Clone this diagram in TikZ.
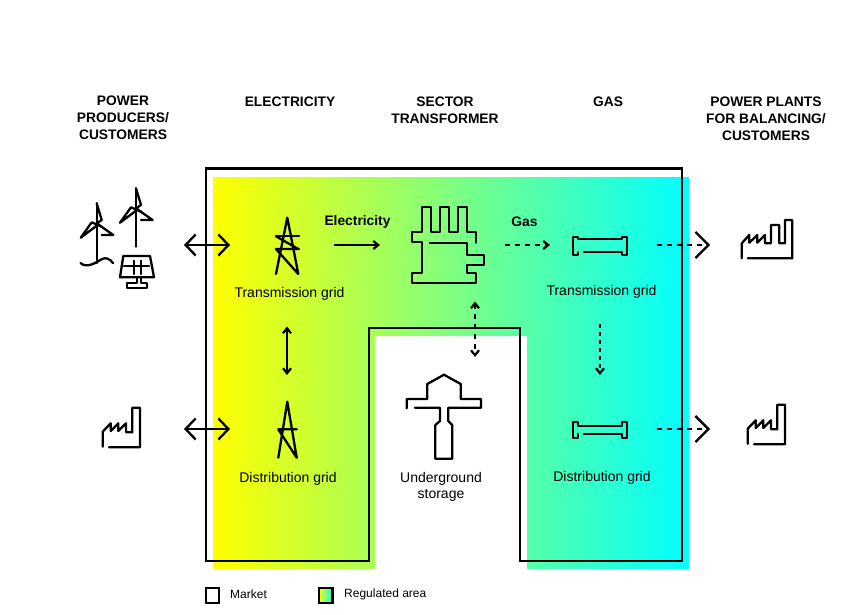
\documentclass[tikz,border=0pt]{standalone}
\usepackage{fontspec}
\setmainfont{Liberation Sans}
\usetikzlibrary{arrows.meta}

\definecolor{regyellow}{RGB}{255,255,0}
\definecolor{regcyan}{RGB}{0,255,255}

\tikzset{
  head/.style = {font = \fontsize{13.8}{17}\selectfont\bfseries, align = center},
  lbl/.style = {font = \fontsize{14}{16}\selectfont, align = center},
  legend/.style = {font = \fontsize{12}{14}\selectfont, anchor = west},
  icon/.style = {line width = 2.3, line join = round, line cap = round},
  bigtip/.style = {line width = 2.3, {Straight Barb[length = 10pt, width = 21pt, line width = 2.3]}-{Straight Barb[length = 10pt, width = 21pt, line width = 2.3]}},
  endtip/.style = {line width = 2.3, -{Straight Barb[length = 13pt, width = 26pt, line width = 2.3]}},
  smalltip/.style = {line width = 2.3, -{Straight Barb[length = 5pt, width = 8pt, line width = 2.2]}},
  bothtip/.style = {line width = 2.3, {Straight Barb[length = 5pt, width = 8pt, line width = 2.2]}-{Straight Barb[length = 5pt, width = 8pt, line width = 2.2]}},
  dash4/.style = {dash pattern = on 5pt off 5pt},
  smallfactory/.pic = {
    \draw[icon] (102.7,446.7) -- (102.7,431.7) -- (110.7,423.3) -- (110.7,431) -- (118.3,423.3) -- (118.3,431)
      -- (126,423.3) -- (126,432.3) -- (132.3,432.3) -- (132.3,407.7) -- (140,407.7) -- (140,447.3) -- (109,447.3);
  }
}

\begin{document}
\begin{tikzpicture}[x = 1pt, y = -1pt]
\useasboundingbox (0,0) rectangle (866,614);

% regulated area
\begin{scope}
\clip (213,177) -- (689,177) -- (689,569) -- (527,569) -- (527,336) -- (375,336) -- (375,569) -- (213,569) -- cycle;
\shade[left color = regyellow, right color = regcyan] (213,177) rectangle (689,569);
\end{scope}

% market
\draw[line width = 2.3, line join = miter] (206,168.5) -- (682,168.5) -- (682,561) -- (520,561) -- (520,328) -- (369,328) -- (369,561) -- (206,561) -- cycle;

% headers
\node[head] (hproducers) at (123,118) {POWER\\PRODUCERS/\\CUSTOMERS};
\node[head] (helec) at (290,102) {ELECTRICITY};
\node[head] (hsector) at (445,110.5) {SECTOR\\TRANSFORMER};
\node[head] (hgas) at (608,102) {GAS};
\node[head] (hplants) at (766,119) {POWER PLANTS\\FOR BALANCING/\\CUSTOMERS};

% labels
\node[head] (lelec) at (357.5,222) {Electricity};
\node[head] (lgas) at (524.5,222) {Gas};
\node[lbl] (ltrans1) at (289.5,294) {Transmission grid};
\node[lbl] (ldist1) at (288,479) {Distribution grid};
\node[lbl] (lstorage) at (441,487) {Underground\\storage};
\node[lbl] (ltrans2) at (601.5,292) {Transmission grid};
\node[lbl] (ldist2) at (602,478) {Distribution grid};

% wind turbines
\draw[icon] (96.7,203.3) -- (96.7,263);
\draw[icon] (96.7,203.3) -- (101.7,220) -- (96.7,223.3) -- (113.3,235) -- (101.7,235);
\draw[icon] (96.7,225.7) -- (80.7,237.7) -- (91.7,222.3) -- (101.7,226.7);
\draw[icon] (80.5,263) .. controls (87,269) and (97,262) .. (102,259) .. controls (106,257) and (110,259) .. (113,263);
\draw[icon] (136,188.3) -- (136,246.7);
\draw[icon] (136,188.3) -- (141,205) -- (136,208.3) -- (152.6,220) -- (141,220);
\draw[icon] (136,210.7) -- (120,222.7) -- (131,207.3) -- (141,211.7);

% solar panel
\draw[icon] (123.3,256) -- (150,256) -- (154,277.3) -- (120,277.3) -- cycle;
\draw[icon] (124,266) -- (149,266);
\draw[icon] (134,260.7) -- (134,274);
\draw[icon] (141.3,260.7) -- (141.3,274);
\draw[icon] (136.7,277.3) -- (136.7,283.3) -- (126.7,283.3) -- (126.7,288.3) -- (146.7,288.3) -- (146.7,283.3) -- (141.3,283.3) -- (141.3,277.3);

% pylons
\draw[icon] (276,274) -- (287.3,217.7) -- (298.3,274) -- (276,249) -- (299,249);
\draw[icon] (276,236.3) -- (299,236.3);
\draw[icon] (276,236.3) -- (298.3,249);
\draw[icon] (278.3,457.7) -- (287.3,401.7) -- (296.7,457.7) -- (278.3,429.3) -- (296.7,429.3);

% sector transformer
\draw[icon] (475.7,242.7) -- (475.7,232.3) -- (466.7,232.3) -- (466.7,206.7) -- (457.7,206.7) -- (457.7,232.3) -- (448.7,232.3)
  -- (448.7,206.7) -- (439.7,206.7) -- (439.7,232.3) -- (430.7,232.3) -- (430.7,206.7) -- (421.7,206.7) -- (421.7,232.3)
  -- (412,232.3) -- (412,242.3) -- (421.7,242.3) -- (421.7,273.3) -- (412,273.3) -- (412,283.3) -- (475.7,283.3)
  -- (475.7,273.3) -- (466.7,273.3) -- (466.7,265.3) -- (484.3,265.3) -- (484.3,255.3) -- (466.7,255.3) -- (466.7,242.7) -- (430,242.7);

% pipes
\draw[icon] (584,252.3) -- (621.7,252.3) -- (621.7,255.3) -- (627.3,255.3) -- (627.3,236.7) -- (621.7,236.7) -- (621.7,239.3)
  -- (578.3,239.3) -- (578.3,236.7) -- (572.7,236.7) -- (572.7,255.3) -- (578.3,255.3) -- (578.3,252.3);
\draw[icon] (584,434) -- (621.7,434) -- (621.7,437.7) -- (627.3,437.7) -- (627.3,421.7) -- (621.7,421.7) -- (621.7,425.7)
  -- (578.3,425.7) -- (578.3,421.7) -- (572.7,421.7) -- (572.7,437.7) -- (578.3,437.7) -- (578.3,434);

% underground storage
\draw[icon] (406.7,408.3) -- (406.7,399) -- (427.3,399) -- (427.3,384) -- (444,374.7) -- (460.7,384) -- (460.7,399) -- (481,399)
  -- (481,407.7) -- (448.3,407.7) -- (448.3,421) -- (452.3,425) -- (452.3,458.7) -- (435.3,458.7) -- (435.3,425) -- (440,421)
  -- (440,407.7) -- (415,407.7);

% factories
\pic at (0,0) {smallfactory};
\pic at (645,-3) {smallfactory};
\draw[icon] (741.7,258.3) -- (741.7,243.3) -- (749.3,235) -- (749.3,242.7) -- (757.3,235) -- (757.3,242.7) -- (765,235) -- (765,243.3)
  -- (771,243.3) -- (771,225) -- (779.3,225) -- (779.3,243.3) -- (785,243.3) -- (785,220) -- (792.3,220) -- (792.3,258.3) -- (747.7,258.3);

% connector ends
\coordinate (prod) at (184,245);
\coordinate (trans1) at (230,245);
\coordinate (cust) at (184,429);
\coordinate (dist1) at (230,429);
\coordinate (elecin) at (334,245);
\coordinate (elecout) at (380,245);
\coordinate (gasin) at (505,245);
\coordinate (gasout) at (550,245);
\coordinate (trans2) at (657,245);
\coordinate (plant1) at (710,245);
\coordinate (dist2) at (657,429);
\coordinate (plant2) at (710,429);
\coordinate (vtop) at (287,326.5);
\coordinate (vbot) at (287,375);
\coordinate (stop) at (475,301.5);
\coordinate (sbot) at (475,357);
\coordinate (ptop) at (600,324);
\coordinate (pbot) at (600,375);

% connectors
\draw[bigtip] (prod) -- (trans1);
\draw[bigtip] (cust) -- (dist1);
\draw[smalltip] (elecin) -- (elecout);
\draw[smalltip, dash4] (gasin) -- (gasout);
\draw[endtip, dash4] (trans2) -- (plant1);
\draw[endtip, dash4] (dist2) -- (plant2);
\draw[bothtip] (vtop) -- (vbot);
\draw[bothtip, dash pattern = on 5pt off 5pt] (stop) -- (sbot);
\draw[smalltip, dash pattern = on 4pt off 4pt] (ptop) -- (pbot);

% legend
\node[draw, line width = 2.3, minimum width = 13pt, minimum height = 15pt, inner sep = 0pt] (mbox) at (212.5,595.3) {};
\node[legend] (mtext) at (226.7,594) {Market};
\shade[left color = regyellow, right color = regcyan] (318.3,587.3) rectangle (333.3,603.3);
\node[draw, line width = 2.3, minimum width = 13.5pt, minimum height = 15pt, inner sep = 0pt] (rbox) at (325.8,595.3) {};
\node[legend] (rtext) at (340.7,594) {Regulated area};
\end{tikzpicture}
\end{document}
